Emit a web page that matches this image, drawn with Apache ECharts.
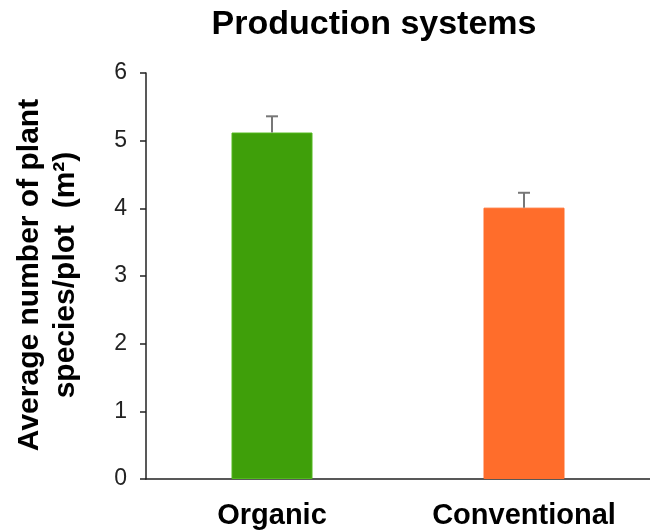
<!DOCTYPE html>
<html lang="en">

<head>
    <meta charset="UTF-8">
    <script src="https://cdn.jsdelivr.net/npm/echarts@6/dist/echarts.min.js"></script>
    <style>
        * {
            margin: 0;
            padding: 0;
        }

        body {
            background-color: #fff;
        }

        #main {
            width: 650px;
            height: 530px;
        }
    </style>
    <title>Production systems</title>
</head>

<body>
    <div id="main"></div>
</body>
<script>
    // data
    var systems = ['Organic', 'Conventional'];
    var means = [5.12, 4.01];
    var errUp = [0.24, 0.22];
    var barColors = ['#3f9f0a', '#ff6d2b'];
    var yTicks = [0, 1, 2, 3, 4, 5, 6];

    var font = '"Liberation Sans", Arial, sans-serif';

    var myChart = echarts.init(document.getElementById('main'));

    var barData = means.map(function (v, i) {
        return {
            value: v,
            itemStyle: {
                color: barColors[i],
                borderColor: i == 0 ? '#52b81c' : barColors[i],
                borderWidth: 1
            }
        };
    });

    var errData = means.map(function (v, i) {
        return [i, v, v + errUp[i]];
    });

    var option = {
        animation: false,
        backgroundColor: '#fff',
        title: {
            text: 'Production systems',
            left: 369,
            top: 3,
            textAlign: 'center',
            textStyle: {
                fontFamily: font,
                fontWeight: 'bold',
                fontSize: 34,
                color: '#000'
            }
        },
        graphic: [
            {
                type: 'text',
                x: 48,
                y: 275,
                rotation: Math.PI / 2,
                style: {
                    text: 'Average number of plant\nspecies/plot  (m²)',
                    fontFamily: font,
                    fontWeight: 'bold',
                    fontSize: 30,
                    lineHeight: 36,
                    fill: '#000',
                    align: 'center',
                    verticalAlign: 'middle'
                }
            }
        ],
        grid: {
            left: 146,
            right: 0,
            top: 73,
            bottom: 51
        },
        xAxis: {
            type: 'category',
            data: systems,
            axisLine: { lineStyle: { color: '#222', width: 1.5 } },
            axisTick: { show: false },
            axisLabel: {
                margin: 22,
                fontFamily: font,
                fontWeight: 'bold',
                fontSize: 29,
                color: '#000'
            }
        },
        yAxis: {
            type: 'value',
            min: yTicks[0],
            max: yTicks[yTicks.length - 1],
            interval: 1,
            splitLine: { show: false },
            axisLine: { show: true, lineStyle: { color: '#222', width: 1.5 } },
            axisTick: { show: true, length: 6, lineStyle: { color: '#222', width: 1.5 } },
            axisLabel: {
                margin: 19,
                fontFamily: font,
                fontSize: 23,
                color: '#222'
            }
        },
        series: [
            {
                type: 'bar',
                data: barData,
                barWidth: 81
            },
            {
                type: 'custom',
                data: errData,
                z: 10,
                renderItem: function (params, api) {
                    var base = api.coord([api.value(0), api.value(1)]);
                    var top = api.coord([api.value(0), api.value(2)]);
                    var half = 6;
                    var st = { stroke: '#777', lineWidth: 2 };
                    return {
                        type: 'group',
                        children: [
                            { type: 'line', shape: { x1: base[0], y1: base[1], x2: top[0], y2: top[1] }, style: st },
                            { type: 'line', shape: { x1: top[0] - half, y1: top[1], x2: top[0] + half, y2: top[1] }, style: st }
                        ]
                    };
                }
            }
        ]
    };

    myChart.setOption(option);
</script>

</html>
